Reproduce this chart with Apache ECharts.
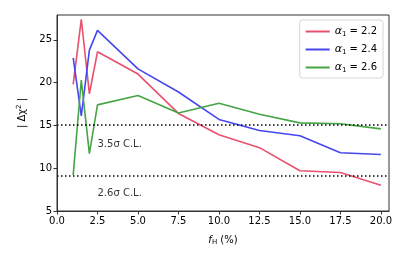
<!DOCTYPE html>
<html><head><meta charset="utf-8">
<script src="https://cdn.jsdelivr.net/npm/echarts@6/dist/echarts.min.js"></script>
<style>html,body{margin:0;padding:0;background:#fff}#c{width:407px;height:262px}</style>
</head><body><div id="c"></div>
<script>
const fH = [1, 1.5, 2, 2.5, 5, 7.5, 10, 12.5, 15, 17.5, 20];
const alpha22 = [19.8, 27.4, 18.7, 23.6, 21.0, 16.4, 13.9, 12.4, 9.7, 9.5, 8.0];
const alpha24 = [22.9, 16.1, 23.8, 26.1, 21.6, 18.9, 15.7, 14.4, 13.8, 11.8, 11.6];
const alpha26 = [9.2, 20.3, 11.7, 17.4, 18.5, 16.45, 17.6, 16.3, 15.3, 15.2, 14.6];
const xTicks = [0, 2.5, 5, 7.5, 10, 12.5, 15, 17.5, 20];
const yTicks = [5, 10, 15, 20, 25];
const clLevels = [15.1, 9.1];
const clLabels = ['3.5σ C.L.', '2.6σ C.L.'];
const seriesNames = ['2.2', '2.4', '2.6'];
const colors = ['#e8506e', '#4646f0', '#45a545'];

const font = 'DejaVu Sans';
const chart = echarts.init(document.getElementById('c'), null, {renderer: 'canvas'});
const mk = (vals) => fH.map((x, i) => [x, vals[i]]);
const data = [alpha22, alpha24, alpha26];
const series = data.map((d, i) => ({
  name: seriesNames[i], type: 'line', data: mk(d), symbol: 'none',
  lineStyle: {color: colors[i], width: 1.6}, itemStyle: {color: colors[i]},
  z: 3, animation: false
}));
series.push({
  type: 'line', data: [], silent: true, animation: false,
  markLine: {
    symbol: 'none', silent: true, animation: false,
    lineStyle: {color: '#000', type: [1.5, 2.5], width: 1.6},
    label: {show: false},
    data: clLevels.map(v => ({yAxis: v}))
  }
});
series.push({
  type: 'scatter', symbolSize: 0, silent: true, animation: false,
  data: [[2.5, 12.8], [2.5, 7.0]],
  label: {
    show: true, position: 'right', distance: 0,
    fontFamily: font, fontSize: 10, color: '#000',
    formatter: p => clLabels[p.dataIndex]
  }
});

chart.setOption({
  animation: false,
  grid: {left: 57, right: 18, top: 15, bottom: 51},
  legend: {
    right: 24, top: 20, orient: 'vertical', itemWidth: 24, itemHeight: 2, itemGap: 6,
    data: seriesNames, icon: 'rect',
    backgroundColor: '#fff', borderColor: '#d6d6d6', borderWidth: 1, borderRadius: 3,
    padding: [6, 6, 4, 6],
    formatter: n => '{a|α}{s|1}{n| = ' + n + '}',
    textStyle: {
      fontFamily: font, fontSize: 10, color: '#000',
      rich: {
        a: {fontFamily: font, fontStyle: 'italic', fontSize: 11},
        s: {fontFamily: font, fontSize: 7, verticalAlign: 'bottom', padding: [6, 0, 0, 0]},
        n: {fontFamily: font, fontSize: 10}
      }
    }
  },
  xAxis: {
    type: 'value', min: 0, max: 20.5,
    name: '{f|f}{h|H}{p| (%)}', nameLocation: 'middle', nameGap: 23,
    nameTextStyle: {
      fontFamily: font, fontSize: 10, color: '#000',
      rich: {
        f: {fontFamily: font, fontStyle: 'italic', fontSize: 10},
        h: {fontFamily: font, fontSize: 7, padding: [5, 0, 0, 0]},
        p: {fontFamily: font, fontSize: 10}
      }
    },
    axisLine: {show: true, onZero: false, lineStyle: {color: '#333', width: 1}},
    axisTick: {show: true, length: 3.5, customValues: xTicks, lineStyle: {color: '#333'}},
    axisLabel: {customValues: xTicks, fontFamily: font, fontSize: 10, color: '#000', margin: 5,
      formatter: v => v.toFixed(1)},
    splitLine: {show: false}
  },
  yAxis: {
    type: 'value', min: 5, max: 27.9,
    name: '{a|| Δχ}{s|2}{a| |}', nameLocation: 'middle', nameGap: 28, nameRotate: 90,
    nameTextStyle: {
      fontFamily: font, fontSize: 10, color: '#000',
      rich: {
        a: {fontFamily: font, fontSize: 10},
        s: {fontFamily: font, fontSize: 7, padding: [0, 0, 6, 0]}
      }
    },
    axisLine: {show: true, onZero: false, lineStyle: {color: '#333', width: 1}},
    axisTick: {show: true, length: 3.5, customValues: yTicks, lineStyle: {color: '#333'}},
    axisLabel: {customValues: yTicks, fontFamily: font, fontSize: 10, color: '#000', margin: 5},
    splitLine: {show: false}
  },
  graphic: [{
    type: 'rect', shape: {x: 57, y: 15, width: 332, height: 196},
    style: {fill: 'none', stroke: '#333', lineWidth: 1}, silent: true, z: 10
  }],
  series: series
});
</script></body></html>
